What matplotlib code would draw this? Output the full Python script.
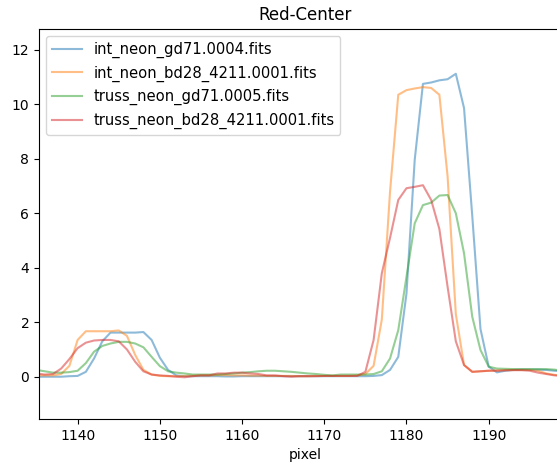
import numpy as np
import matplotlib
matplotlib.use("Agg")
import matplotlib.pyplot as plt

# pixel positions (integer detector columns)
pixel = np.arange(1134, 1200)

int_gd71 = [0.0, 0.0, 0.0, 0.0, 0.0, 0.02, 0.03, 0.18, 0.67, 1.3, 1.62, 1.62, 1.62, 1.62, 1.64, 1.35, 0.7,
            0.25, 0.05, 0.02, 0.02, 0.02, 0.02, 0.02, 0.01, 0.01, 0.02, 0.02, 0.02, 0.02, 0.02, 0.02, 0.02,
            0.02, 0.02, 0.02, 0.02, 0.02, 0.02, 0.02, 0.02, 0.02, 0.03, 0.06, 0.25, 0.73, 3.06, 7.96,
            10.75, 10.8, 10.88, 10.92, 11.12, 9.86, 5.9, 1.75, 0.37, 0.16, 0.22, 0.25, 0.26, 0.26, 0.26,
            0.25, 0.22, 0.2]
int_bd28 = [0.05, 0.05, 0.05, 0.05, 0.1, 0.4, 1.35, 1.67, 1.67, 1.67, 1.67, 1.7, 1.5, 0.8, 0.25, 0.08,
            0.03, 0.02, 0.02, 0.03, 0.04, 0.05, 0.05, 0.06, 0.06, 0.05, 0.05, 0.04, 0.04, 0.03, 0.03, 0.03,
            0.03, 0.02, 0.02, 0.03, 0.03, 0.03, 0.03, 0.03, 0.05, 0.1, 0.4, 2.1, 6.8, 10.35, 10.52, 10.58,
            10.63, 10.6, 10.35, 7.35, 2.3, 0.43, 0.18, 0.2, 0.22, 0.23, 0.25, 0.25, 0.25, 0.25, 0.22, 0.12,
            0.07, 0.03]
truss_gd71 = [0.27, 0.25, 0.2, 0.15, 0.15, 0.17, 0.22, 0.5, 0.92, 1.13, 1.22, 1.28, 1.28, 1.22, 1.08, 0.73,
              0.39, 0.2, 0.15, 0.12, 0.08, 0.08, 0.08, 0.08, 0.1, 0.12, 0.15, 0.17, 0.2, 0.22, 0.22, 0.2,
              0.18, 0.15, 0.12, 0.1, 0.07, 0.05, 0.08, 0.08, 0.08, 0.08, 0.1, 0.2, 0.67, 1.71, 3.67, 5.63,
              6.3, 6.39, 6.65, 6.67, 6.0, 4.53, 2.2, 0.98, 0.37, 0.3, 0.29, 0.28, 0.28, 0.28, 0.28, 0.28,
              0.26, 0.22]
truss_bd28 = [0.12, 0.12, 0.08, 0.1, 0.3, 0.65, 1.05, 1.25, 1.33, 1.35, 1.35, 1.3, 1.0, 0.55, 0.2, 0.08,
              0.05, 0.03, 0.0, -0.02, 0.02, 0.05, 0.05, 0.12, 0.12, 0.15, 0.15, 0.12, 0.1, 0.05, 0.05,
              0.02, 0.0, 0.02, 0.02, 0.02, 0.03, 0.03, 0.03, 0.03, 0.03, 0.18, 1.35, 3.8, 5.1, 6.49, 6.92,
              6.97, 7.03, 6.49, 5.42, 3.3, 1.3, 0.43, 0.18, 0.2, 0.22, 0.22, 0.23, 0.24, 0.24, 0.22, 0.15,
              0.1, 0.05, 0.03]

labels = ["int_neon_gd71.0004.fits", "int_neon_bd28_4211.0001.fits",
          "truss_neon_gd71.0005.fits", "truss_neon_bd28_4211.0001.fits"]

fig = plt.figure(figsize=(5.57, 4.65), dpi=100)
ax = fig.add_axes([0.070, 0.099, 0.955, 0.839])

for serie, nombre in zip([int_gd71, int_bd28, truss_gd71, truss_bd28], labels):
    ax.plot(pixel, serie, alpha=0.5, label=nombre)

ax.set_xlim(1135.3, 1200)
ax.set_ylim(-1.55, 12.77)
ax.set_xticks([1140, 1150, 1160, 1170, 1180, 1190])
ax.set_yticks([0, 2, 4, 6, 8, 10, 12])
ax.set_title("Red-Center")
ax.set_xlabel("pixel")
ax.legend(loc="upper left", fontsize=10.6)

fig.savefig("out.png", dpi=100)
